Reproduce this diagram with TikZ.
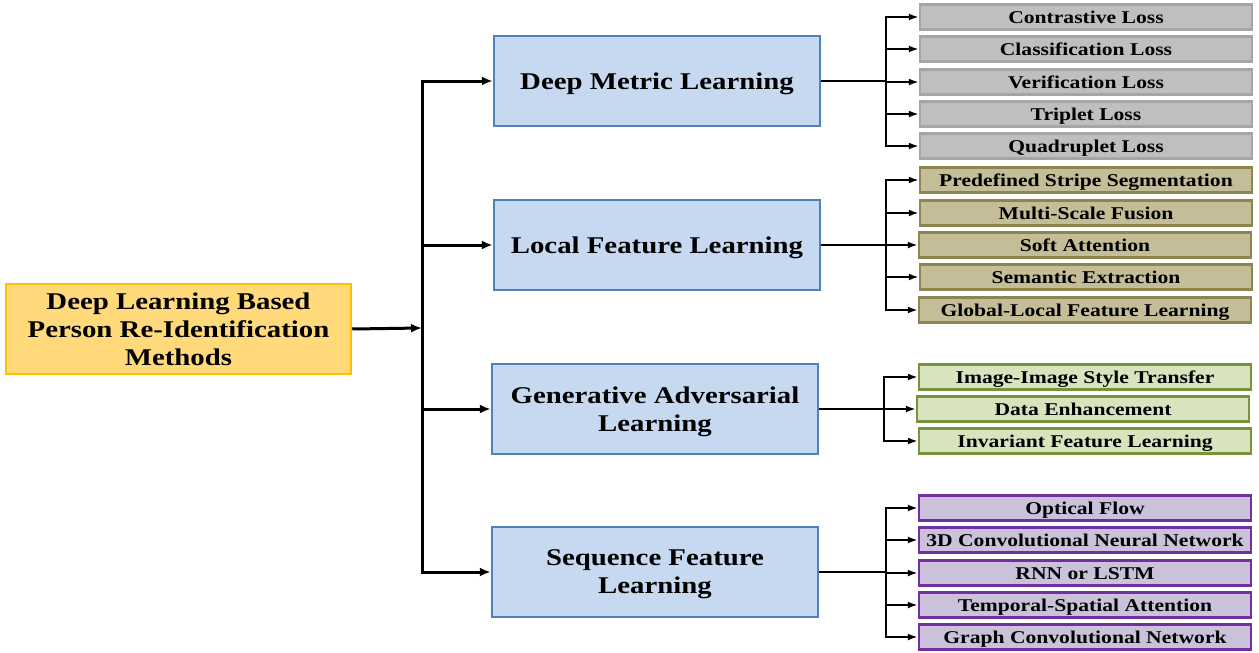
\documentclass[tikz,border=0pt]{standalone}
\usepackage{fontspec}
\setmainfont[FakeStretch=1.2]{Liberation Serif}
\usetikzlibrary{arrows.meta}
\definecolor{rootfill}{HTML}{FFD97A}
\definecolor{rootdraw}{HTML}{FFC000}
\definecolor{midfill}{HTML}{C6D9F0}
\definecolor{middraw}{HTML}{4F81BD}
\definecolor{grayfill}{HTML}{BFBFBF}
\definecolor{graydraw}{HTML}{A5A5A5}
\definecolor{tanfill}{HTML}{C4BD97}
\definecolor{tandraw}{HTML}{8E844E}
\definecolor{greenfill}{HTML}{D7E4BD}
\definecolor{greendraw}{HTML}{77933C}
\definecolor{purplefill}{HTML}{CCC1DA}
\definecolor{purpledraw}{HTML}{7030A0}
\tikzset{
	rootbox/.style={draw=rootdraw, fill=rootfill, line width=2.5pt, minimum width=345pt, minimum height=90pt, inner sep=0pt, align=center, font=\fontsize{24}{28}\selectfont\bfseries},
	midbox/.style={draw=middraw, fill=midfill, line width=2.5pt, minimum width=326pt, minimum height=90pt, inner sep=0pt, text depth=0pt, align=center, font=\fontsize{24}{28}\selectfont\bfseries},
	leafbox/.style={line width=2.5pt, minimum width=332pt, minimum height=25pt, inner sep=0pt, text height=13pt, text depth=0pt, font=\fontsize{18}{20}\selectfont\bfseries},
	graybox/.style={leafbox, draw=graydraw, fill=grayfill},
	tanbox/.style={leafbox, draw=tandraw, fill=tanfill},
	greenbox/.style={leafbox, draw=greendraw, fill=greenfill},
	purplebox/.style={leafbox, draw=purpledraw, fill=purplefill},
	mainarrow/.style={line width=3pt, -{Latex[length=11pt,width=9pt]}},
	leafline/.style={line width=1.6pt},
	leafarrow/.style={line width=1.8pt, -{Latex[length=10pt,width=7pt]}}
}
\begin{document}
\begin{tikzpicture}[x=1pt, y=-1pt]
	\useasboundingbox (0,0) rectangle (1259,653);
	\node[rootbox] (root) at (178.5,329) {Deep Learning Based\\Person Re-Identification\\Methods};
	\node[midbox] (dml) at (657,81) {Deep Metric Learning};
	\node[midbox] (lfl) at (657,245) {Local Feature Learning};
	\node[midbox] (gal) at (655,409) {Generative Adversarial\\Learning};
	\node[midbox] (sfl) at (655,572) {Sequence Feature\\Learning};

	\node[graybox] (contrastive) at (1086,17) {Contrastive Loss};
	\node[graybox] (classification) at (1086,49) {Classification Loss};
	\node[graybox] (verification) at (1086,82) {Verification Loss};
	\node[graybox] (triplet) at (1086,114) {Triplet Loss};
	\node[graybox] (quadruplet) at (1086,146) {Quadruplet Loss};

	\node[tanbox] (stripe) at (1086,180) {Predefined Stripe Segmentation};
	\node[tanbox] (multiscale) at (1086,213) {Multi-Scale Fusion};
	\node[tanbox] (softatt) at (1085,245) {Soft Attention};
	\node[tanbox] (semantic) at (1086,277) {Semantic Extraction};
	\node[tanbox] (globallocal) at (1085,310) {Global-Local Feature Learning};

	\node[greenbox] (styletransfer) at (1085,377) {Image-Image Style Transfer};
	\node[greenbox] (dataenh) at (1083,409) {Data Enhancement};
	\node[greenbox] (invariant) at (1085,441) {Invariant Feature Learning};

	\node[purplebox] (optflow) at (1085,508) {Optical Flow};
	\node[purplebox] (conv3d) at (1085,540) {3D Convolutional Neural Network};
	\node[purplebox] (rnn) at (1085,573) {RNN or LSTM};
	\node[purplebox] (tsatt) at (1085,605) {Temporal-Spatial Attention};
	\node[purplebox] (gcn) at (1085,637) {Graph Convolutional Network};

	\coordinate (hub) at (422,328);
	\draw[mainarrow] (root.east) -- (hub);
	\draw[mainarrow] (hub) |- (dml.west);
	\draw[mainarrow] (hub) |- (lfl.west);
	\draw[mainarrow] (hub) |- (gal.west);
	\draw[mainarrow] (hub) |- (sfl.west);

	\coordinate (dmlhub) at (886,81);
	\draw[leafline] (dml.east) -- (dmlhub);
	\draw[leafarrow] (dmlhub) |- (contrastive.west);
	\draw[leafarrow] (dmlhub) |- (classification.west);
	\draw[leafarrow] (dmlhub) |- (verification.west);
	\draw[leafarrow] (dmlhub) |- (triplet.west);
	\draw[leafarrow] (dmlhub) |- (quadruplet.west);

	\coordinate (lflhub) at (886,245);
	\draw[leafline] (lfl.east) -- (lflhub);
	\draw[leafarrow] (lflhub) |- (stripe.west);
	\draw[leafarrow] (lflhub) |- (multiscale.west);
	\draw[leafarrow] (lflhub) |- (softatt.west);
	\draw[leafarrow] (lflhub) |- (semantic.west);
	\draw[leafarrow] (lflhub) |- (globallocal.west);

	\coordinate (galhub) at (884,409);
	\draw[leafline] (gal.east) -- (galhub);
	\draw[leafarrow] (galhub) |- (styletransfer.west);
	\draw[leafarrow] (galhub) |- (dataenh.west);
	\draw[leafarrow] (galhub) |- (invariant.west);

	\coordinate (sflhub) at (886,572);
	\draw[leafline] (sfl.east) -- (sflhub);
	\draw[leafarrow] (sflhub) |- (optflow.west);
	\draw[leafarrow] (sflhub) |- (conv3d.west);
	\draw[leafarrow] (sflhub) |- (rnn.west);
	\draw[leafarrow] (sflhub) |- (tsatt.west);
	\draw[leafarrow] (sflhub) |- (gcn.west);
\end{tikzpicture}
\end{document}
